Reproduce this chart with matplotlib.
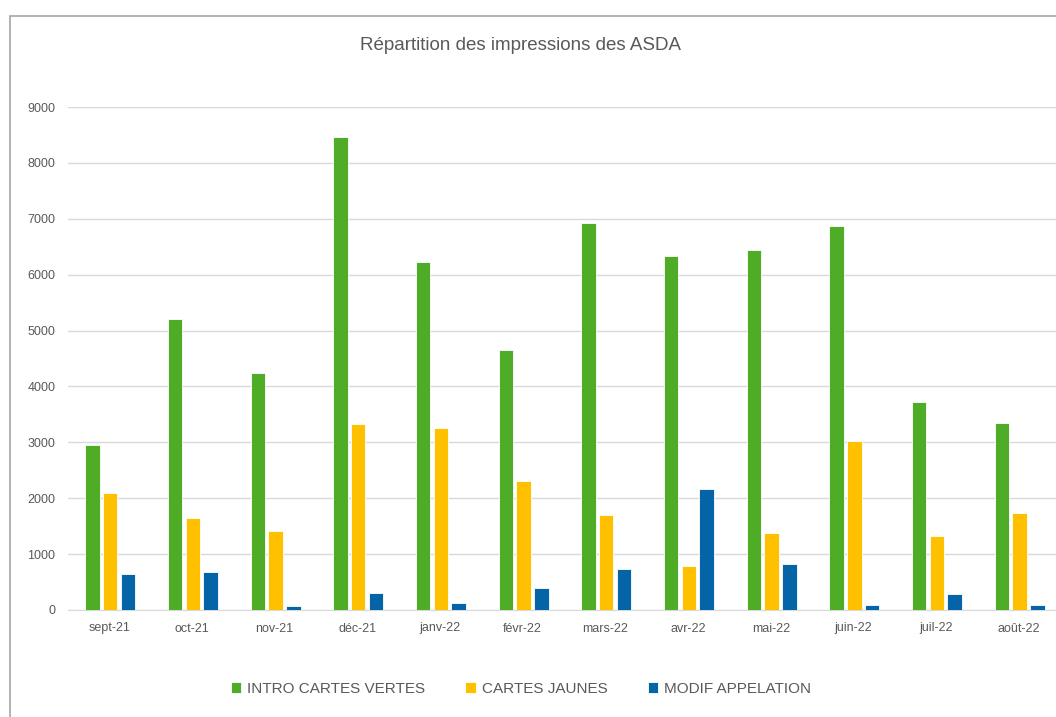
import matplotlib.pyplot as plt
from matplotlib.patches import Rectangle
import numpy as np

plt.rcParams['font.family'] = ['Liberation Sans', 'DejaVu Sans']

mois = ['sept-21', 'oct-21', 'nov-21', 'déc-21', 'janv-22', 'févr-22',
        'mars-22', 'avr-22', 'mai-22', 'juin-22', 'juil-22', 'août-22']
cartes_vertes = [2953, 5204, 4233, 8458, 6232, 4657, 6933, 6338, 6444, 6876, 3728, 3344]
cartes_jaunes = [2088, 1640, 1411, 3328, 3263, 2316, 1705, 791, 1370, 3018, 1330, 1729]
modif_appelation = [636, 677, 65, 310, 122, 392, 734, 2170, 824, 82, 294, 82]

series = [('INTRO CARTES VERTES', cartes_vertes, '#4EAC26'),
          ('CARTES JAUNES', cartes_jaunes, '#FFC000'),
          ('MODIF APPELATION', modif_appelation, '#0563A8')]

fig = plt.figure(figsize=(10.56, 7.17), dpi=100)

# cadre du graphique (coupé à droite et en bas)
fig.patches.append(Rectangle((10 / 1056, -0.05), 1.1, 1 - 16 / 717 + 0.05,
                             transform=fig.transFigure, fill=False,
                             edgecolor='#A6A6A6', lw=1.2))

ax = fig.add_axes([68 / 1056, 1 - 610 / 717, 988 / 1056, 503 / 717])
x = np.arange(len(mois))
w = 0.175
off = 0.215
for i, (nom, vals, col) in enumerate(series):
    ax.bar(x + (i - 1) * off + 0.01, vals, w, color=col, label=nom,
           edgecolor='white', linewidth=0.6, zorder=3)

ax.set_xlim(-0.5, 11.45)
ax.set_ylim(0, 9000)
ax.set_yticks(range(0, 9001, 1000))
ax.set_xticks(x)
ax.set_xticklabels(mois)
ax.grid(axis='y', color='#D9D9D9', lw=1, zorder=0)
for s in ['top', 'right', 'left']:
    ax.spines[s].set_visible(False)
ax.spines['bottom'].set_color('#D9D9D9')
ax.tick_params(length=0, colors='#595959', labelsize=9)
ax.tick_params(axis='x', pad=9)
ax.tick_params(axis='y', pad=9)

fig.text(520 / 1056, 1 - 46 / 717, 'Répartition des impressions des ASDA',
         ha='center', va='center', fontsize=13.5, color='#595959')

fig.legend(loc='center', bbox_to_anchor=(521 / 1056, 1 - 689 / 717), ncol=3,
           frameon=False, fontsize=11, labelcolor='#595959',
           handlelength=0.7, handleheight=0.7, handletextpad=0.4, columnspacing=2.6)

plt.savefig('out.png', dpi=100)
